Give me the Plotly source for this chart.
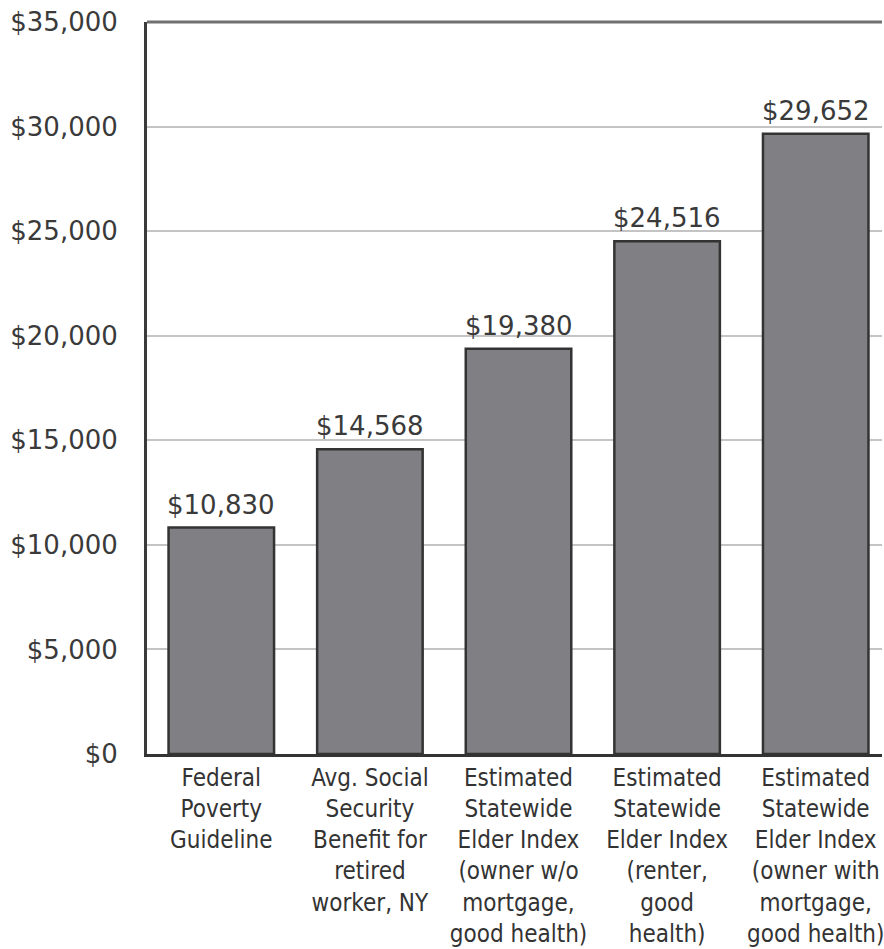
import plotly.graph_objects as go

categories = [
    "Federal<br>Poverty<br>Guideline",
    "Avg. Social<br>Security<br>Benefit for<br>retired<br>worker, NY",
    "Estimated<br>Statewide<br>Elder Index<br>(owner w/o<br>mortgage,<br>good health)",
    "Estimated<br>Statewide<br>Elder Index<br>(renter,<br>good<br>health)",
    "Estimated<br>Statewide<br>Elder Index<br>(owner with<br>mortgage,<br>good health)",
]
values = [10830, 14568, 19380, 24516, 29652]
labels = ["$10,830", "$14,568", "$19,380", "$24,516", "$29,652"]
tick_vals = [0, 5000, 10000, 15000, 20000, 25000, 30000, 35000]
tick_text = ["$0", "$5,000", "$10,000", "$15,000", "$20,000", "$25,000", "$30,000", "$35,000"]

xs = list(range(len(categories)))

fig = go.Figure()
fig.add_trace(go.Bar(
    x=xs,
    y=values,
    width=0.71,
    marker=dict(color="#808084", line=dict(color="#333333", width=2.5)),
))

for xi, v, lab in zip(xs, values, labels):
    fig.add_annotation(x=xi, y=v, text=lab, showarrow=False, yanchor="bottom",
                       yshift=6, font=dict(family="DejaVu Sans", size=26, color="#3a3a3a"))

fig.add_shape(type="line", xref="paper", yref="paper", x0=0, x1=1, y0=1, y1=1,
              line=dict(color="#707070", width=3))

fig.update_layout(
    width=884, height=949,
    margin=dict(l=147, r=0, t=22, b=195),
    plot_bgcolor="white", paper_bgcolor="white",
    showlegend=False,
    xaxis=dict(
        range=[-0.5, 4.446],
        tickmode="array",
        tickvals=xs,
        ticktext=categories,
        tickangle=0,
        ticklabeloverflow="allow",
        tickfont=dict(family="Liberation Sans Narrow, DejaVu Sans Condensed", size=24, color="#333333"),
        showline=True, linecolor="#333333", linewidth=3,
        showgrid=False, ticks="", zeroline=False,
    ),
    yaxis=dict(
        range=[0, 35000],
        tickmode="array",
        tickvals=tick_vals,
        ticktext=tick_text,
        tickfont=dict(family="DejaVu Sans", size=26, color="#3a3a3a"),
        showline=True, linecolor="#3a3a3a", linewidth=3,
        showgrid=True, gridcolor="#c4c4c4", gridwidth=2,
        ticks="", ticklabelstandoff=21, zeroline=False,
    ),
)

fig.write_html("out.html")
